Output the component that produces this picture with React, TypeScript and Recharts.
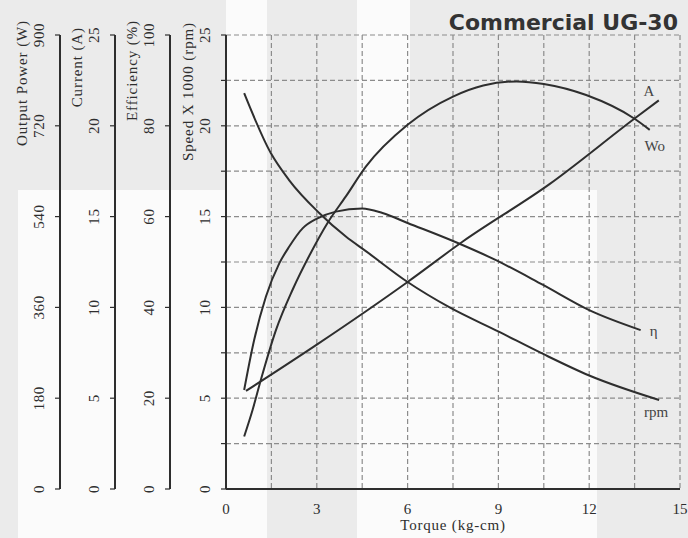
import React from 'react';
import { LineChart, Line, XAxis, YAxis, CartesianGrid } from 'recharts';

// axis ticks
const torqueTicks = [0, 1.5, 3, 4.5, 6, 7.5, 9, 10.5, 12, 13.5, 15];
const speedTicks = [0, 2.5, 5, 7.5, 10, 12.5, 15, 17.5, 20, 22.5, 25];
const efficiencyTicks = [0, 20, 40, 60, 80, 100];
const currentTicks = [0, 5, 10, 15, 20, 25];
const powerTicks = [0, 180, 360, 540, 720, 900];

// rpm: speed x 1000
const rpmTorque = [0.6, 1.48, 2.09, 3.08, 3.96, 4.62, 6, 7.39, 9.03, 10.46, 12, 14.31];
const rpmSpeed = [21.8, 18.5, 17.0, 15.2, 13.9, 13.1, 11.4, 10.0, 8.65, 7.45, 6.25, 4.9];

// A: current
const ampTorque = [0.66, 3, 6, 7.8, 10.7, 13.5, 14.3];
const ampCurrent = [5.4, 7.95, 11.4, 13.6, 16.8, 20.4, 21.4];

// eta: efficiency %
const effTorque = [0.6, 0.93, 1.32, 1.76, 2.09, 2.53, 3.02, 3.63, 4.5, 5.17, 6, 7.58, 8.92, 10.46, 12, 13.7];
const effPercent = [21.8, 32.8, 42.4, 49.7, 53.4, 57.4, 59.6, 61.1, 61.8, 60.8, 58.6, 54.4, 50.4, 45, 39.4, 35];

// Wo: output power
const powTorque = [0.6, 0.88, 1.15, 1.65, 2.2, 2.8, 3.35, 3.96, 4.62, 6, 7.5, 8.5, 9.6, 10.5, 11.9, 13.5, 14];
const powWatts = [104, 157, 216, 315, 395, 468, 527, 580, 639, 722, 778, 800, 808, 803, 781, 734, 712];

const zip = (xs: number[], ys: number[]) => xs.map((t, i) => ({ t, v: ys[i] }));

const SERIF = '"Liberation Serif", "DejaVu Serif", serif';
const INK = '#2e2e2e';
const GRAY = '#ebebeb';

// white patches of the scanned page
const whitePanels = [
  { left: 18, top: 190, width: 208, height: 348 },
  { left: 226, top: 0, width: 41, height: 538 },
  { left: 357, top: 0, width: 53, height: 538 },
  { left: 410, top: 190, width: 187, height: 348 },
];

function SideTick(props: any) {
  const { x, y, payload, every } = props;
  if (payload.value % every !== 0) return null;
  const bx = x - 9;
  return (
    <text x={bx} y={y} transform={`rotate(-90 ${bx} ${y})`} textAnchor="middle"
      fontSize={15} fontFamily={SERIF} fill={INK} letterSpacing={0.6}>
      {payload.value}
    </text>
  );
}

function sideLabel(text: string, endY: number) {
  return (p: any) => {
    const vb = p.viewBox;
    const bx = vb.x + vb.width - 33;
    return (
      <text x={bx} y={endY} transform={`rotate(-90 ${bx} ${endY})`} textAnchor="end"
        fontSize={15} fontFamily={SERIF} fill={INK} letterSpacing={0.9}>
        {text}
      </text>
    );
  };
}

function endLabel(text: string, n: number, dx: number, dy: number) {
  return (p: any) => {
    if (p.index !== n - 1) return null;
    return (
      <text key="end" x={p.x + dx} y={p.y + dy} textAnchor="middle" fontSize={15}
        fontFamily={SERIF} fill="#444">
        {text}
      </text>
    );
  };
}

export default function App() {
  const rpm = zip(rpmTorque, rpmSpeed);
  const amp = zip(ampTorque, ampCurrent);
  const eff = zip(effTorque, effPercent);
  const pow = zip(powTorque, powWatts);

  const axisLine = { stroke: INK, strokeWidth: 2 };
  const tickLine = { stroke: INK, strokeWidth: 1.2 };

  // y axes on the left are stacked in id order, nearest the plot first
  return (
    <div style={{ position: 'absolute', left: 0, top: 0, width: 688, height: 538, background: GRAY, overflow: 'hidden' }}>
      {whitePanels.map((w, i) => (
        <div key={i} style={{ position: 'absolute', background: '#fbfbfb', ...w }} />
      ))}
      <div style={{
        position: 'absolute', right: 10, top: 12, fontFamily: '"DejaVu Sans", sans-serif',
        fontWeight: 700, fontSize: 22, lineHeight: 1, color: '#333',
      }}>
        Commercial UG-30
      </div>
      <div style={{ position: 'absolute', left: 0, top: 0 }}>
        <LineChart width={688} height={538} margin={{ top: 35, right: 8, bottom: 4, left: 0 }}>
          <CartesianGrid yAxisId="a_speed" stroke="#8c8c8c" strokeWidth={1.2} strokeDasharray="5 3" />
          <XAxis type="number" dataKey="t" domain={[0, 15]} ticks={torqueTicks} interval={0}
            height={45} tickLine={false} tickSize={0} tickMargin={14} axisLine={axisLine}
            tickFormatter={(v: number) => (v % 3 === 0 ? String(v) : '')}
            tick={{ fontSize: 15, fontFamily: SERIF, fill: INK }}
            label={{
              content: (p: any) => (
                <text x={p.viewBox.x + p.viewBox.width / 2} y={p.viewBox.y + 41} textAnchor="middle"
                  fontSize={15} fontFamily={SERIF} fill={INK} letterSpacing={0.8}>Torque (kg-cm)</text>
              ),
            }} />
          <YAxis yAxisId="a_speed" type="number" domain={[0, 25]} ticks={speedTicks} interval={0} width={56}
            tickSize={5} axisLine={axisLine} tickLine={tickLine}
            tick={(p: any) => <SideTick {...p} every={5} />}
            label={{ content: sideLabel('Speed X 1000 (rpm)', 22) }} />
          <YAxis yAxisId="b_eff" type="number" domain={[0, 100]} ticks={efficiencyTicks} interval={0} width={55}
            tickSize={5} axisLine={axisLine} tickLine={tickLine}
            tick={(p: any) => <SideTick {...p} every={20} />}
            label={{ content: sideLabel('Efficiency (%)', 20) }} />
          <YAxis yAxisId="c_current" type="number" domain={[0, 25]} ticks={currentTicks} interval={0} width={55}
            tickSize={5} axisLine={axisLine} tickLine={tickLine}
            tick={(p: any) => <SideTick {...p} every={5} />}
            label={{ content: sideLabel('Current (A)', 27) }} />
          <YAxis yAxisId="d_power" type="number" domain={[0, 900]} ticks={powerTicks} interval={0} width={60}
            tickSize={5} axisLine={axisLine} tickLine={tickLine}
            tick={(p: any) => <SideTick {...p} every={180} />}
            label={{ content: sideLabel('Output Power (W)', 20) }} />
          <Line yAxisId="a_speed" data={rpm} dataKey="v" type="monotone" stroke={INK} strokeWidth={2}
            dot={false} isAnimationActive={false} label={endLabel('rpm', rpm.length, -3, 17)} />
          <Line yAxisId="c_current" data={amp} dataKey="v" type="monotone" stroke={INK} strokeWidth={2}
            dot={false} isAnimationActive={false} label={endLabel('A', amp.length, -10, -4)} />
          <Line yAxisId="b_eff" data={eff} dataKey="v" type="monotone" stroke={INK} strokeWidth={2}
            dot={false} isAnimationActive={false} label={endLabel('η', eff.length, 13, 6)} />
          <Line yAxisId="d_power" data={pow} dataKey="v" type="monotone" stroke={INK} strokeWidth={2}
            dot={false} isAnimationActive={false} label={endLabel('Wo', pow.length, 5, 21)} />
        </LineChart>
      </div>
    </div>
  );
}
